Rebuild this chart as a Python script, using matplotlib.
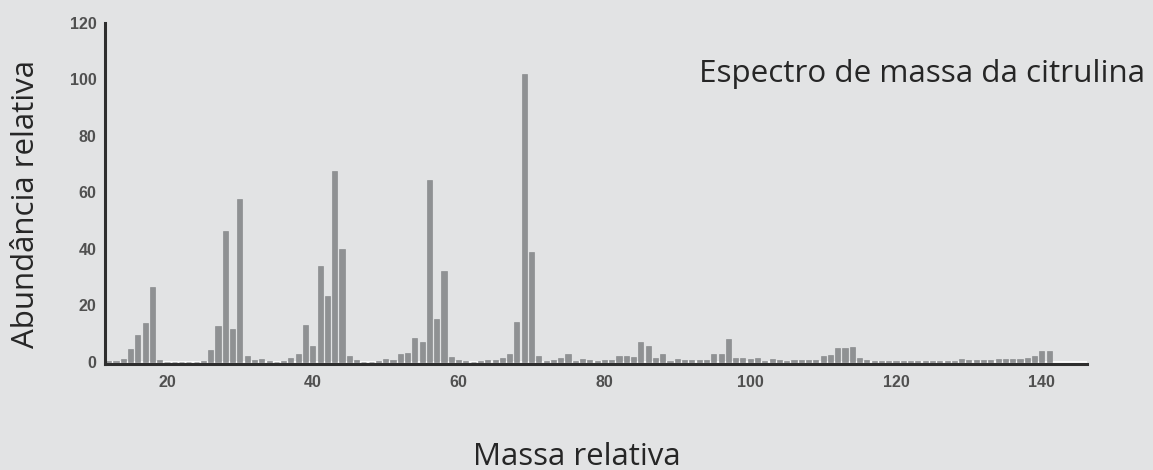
import numpy as np
import matplotlib
matplotlib.use("Agg")
import matplotlib.pyplot as plt

# mass spectrum of citrulline
masses = np.arange(12, 142)
abundance = [
    0.5, 0.3, 1.0, 4.6, 9.5, 13.7, 26.5, 0.8,                # 12-19
    0, 0, 0, 0, 0, 0.4, 4.2, 12.7, 46.5, 11.6,               # 20-29
    57.5, 2.1, 0.8, 1.0, 0.3, 0, 0.5, 1.3, 2.9, 13.2,        # 30-39
    5.6, 34, 23.2, 67.4, 39.9, 2.1, 0.7, 0, 0, 0.3,          # 40-49
    1.0, 0.8, 2.8, 3.3, 8.5, 7.0, 64.4, 15.3, 32.2, 1.9,     # 50-59
    0.6, 0.5, 0, 0.3, 0.7, 0.6, 1.3, 3.0, 14.1, 102,         # 60-69
    39, 2.1, 0.5, 0.6, 1.4, 2.7, 0.3, 1.0, 0.8, 0.5,         # 70-79
    0.8, 0.8, 2.0, 2.0, 1.9, 7.2, 5.6, 1.5, 2.8, 0.3,        # 80-89
    1.0, 0.8, 0.6, 0.8, 0.8, 2.7, 2.7, 8.1, 1.5, 1.3,        # 90-99
    1.0, 1.3, 0.3, 1.0, 0.8, 0.5, 0.8, 0.8, 0.8, 0.8,        # 100-109
    2.1, 2.5, 4.8, 4.8, 5.4, 1.6, 0.8, 0.5, 0.5, 0.5,        # 110-119
    0.5, 0.5, 0.5, 0.5, 0.5, 0.5, 0.5, 0.5, 0.2, 1.0,        # 120-129
    0.8, 0.6, 0.8, 0.8, 1.2, 1.0, 1.0, 1.2, 1.5, 2.0,        # 130-139
    4.0, 4.0,                                                # 140-141
]
x_ticks = [20, 40, 60, 80, 100, 120, 140]
y_ticks = [0, 20, 40, 60, 80, 100, 120]

title = "Espectro de massa da citrulina"
xlabel = "Massa relativa"
ylabel = "Abundância relativa"

bg = "#e2e3e4"
bar_color = "#8f9193"
axis_color = "#2e2e2e"

fig = plt.figure(figsize=(11.53, 4.70), dpi=100, facecolor=bg)
ax = fig.add_axes([0.0911, 0.2255, 0.8517, 0.7264])
ax.set_facecolor(bg)

# thin white base line that shows between the bars
ax.axhline(0, color="white", lw=1.2, zorder=1)
ax.bar(masses, abundance, width=0.7, color=bar_color,
       edgecolor="#808284", linewidth=0.4, zorder=2)

ax.set_xlim(11.5, 146.2)
ax.set_ylim(-0.7, 119.5)
ax.set_xticks(x_ticks)
ax.set_yticks(y_ticks)

for side in ["top", "right"]:
    ax.spines[side].set_visible(False)
for side in ["left", "bottom"]:
    ax.spines[side].set_color(axis_color)
    ax.spines[side].set_linewidth(2.2)

ax.tick_params(axis="both", length=0, labelcolor="#505050")
ax.tick_params(axis="x", pad=8)
ax.tick_params(axis="y", pad=6)
for lab in ax.get_xticklabels() + ax.get_yticklabels():
    lab.set_fontfamily("Liberation Sans")
    lab.set_fontweight("bold")
    lab.set_fontsize(11.5)

fig.text(1145 / 1153, 1 - 82 / 470, title, ha="right", va="baseline",
         fontsize=22.6, family="Open Sans", color="#262626")
fig.text(577 / 1153, 1 - 465 / 470, xlabel, ha="center", va="baseline",
         fontsize=22.5, family="Open Sans", color="#262626")
fig.text(26 / 1153, 1 - 204 / 470, ylabel, ha="center", va="center",
         rotation=90, fontsize=22.5, family="Open Sans", color="#262626")

fig.savefig("out.png", dpi=100, facecolor=bg)
